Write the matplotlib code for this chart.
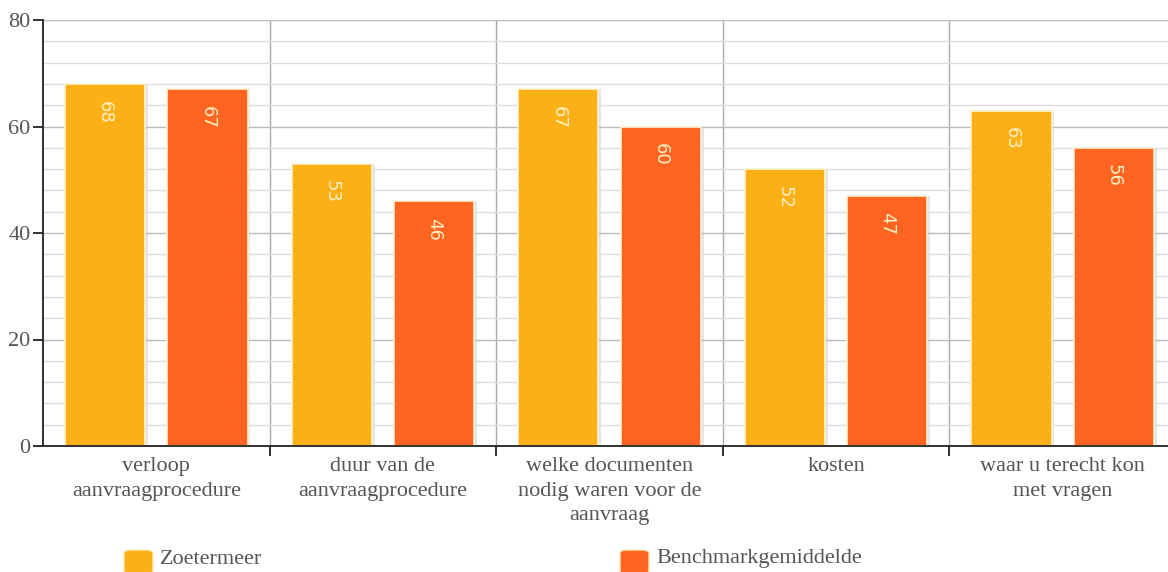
import matplotlib
matplotlib.use("Agg")
import matplotlib.pyplot as plt
from matplotlib.patches import FancyBboxPatch
from matplotlib.ticker import MultipleLocator
import numpy as np

categories = [
    "verloop\naanvraagprocedure",
    "duur van de\naanvraagprocedure",
    "welke documenten\nnodig waren voor de\naanvraag",
    "kosten",
    "waar u terecht kon\nmet vragen",
]
zoetermeer = [68, 53, 67, 52, 63]
benchmark = [67, 46, 60, 47, 56]
series_names = ["Zoetermeer", "Benchmarkgemiddelde"]
yticks = [0, 20, 40, 60, 80]

c_yellow = "#FBB018"
c_red = "#FF6420"
text_grey = "#555555"
serif = ["Liberation Serif", "DejaVu Serif"]

W, H = 1168, 572
fig = plt.figure(figsize=(W / 100, H / 100), dpi=100)
fig.patch.set_facecolor("white")

left, right, top, bottom = 43, 1176, 20, 446
ax = fig.add_axes([left / W, 1 - bottom / H, (right - left) / W, (bottom - top) / H])

x = np.arange(len(categories))
bw = 0.354
off = 0.226

ax.set_xlim(-0.5, len(categories) - 0.5)
ax.set_ylim(0, 80)

# grid: minor every 4, major every 20
ax.yaxis.set_major_locator(MultipleLocator(20))
ax.yaxis.set_minor_locator(MultipleLocator(4))
ax.grid(axis="y", which="minor", color="#dddddd", linewidth=1.0, zorder=0)
ax.grid(axis="y", which="major", color="#bbbbbb", linewidth=1.0, zorder=0)
for b in np.arange(0.5, len(categories) - 0.5, 1.0):
    ax.axvline(b, color="#aaaaaa", linewidth=1.0, zorder=0)

for vals, dx, col in [(zoetermeer, -off, c_yellow), (benchmark, off, c_red)]:
    # soft shadow behind each bar
    ax.bar(x + dx + 0.012, vals, bw, color="#cccccc", alpha=0.5, zorder=1)
    ax.bar(x + dx, vals, bw, color=col, edgecolor="#fff2d0",
           linewidth=1.2, zorder=2)
    for xi, v in zip(x + dx, vals):
        ax.annotate(str(v), (xi, v), xytext=(0, -12), textcoords="offset points",
                    rotation=-90, ha="center", va="top", fontsize=13,
                    color="#fff1c4", family="DejaVu Sans", zorder=3)

for s in ["top", "right"]:
    ax.spines[s].set_visible(False)
ax.spines["left"].set_color("#222222")
ax.spines["bottom"].set_color("#222222")
ax.spines["left"].set_linewidth(1.3)
ax.spines["bottom"].set_linewidth(1.3)

ax.set_yticks(yticks)
ax.set_yticklabels([str(t) for t in yticks], family=serif, fontsize=16, color=text_grey)
ax.tick_params(axis="y", which="major", length=7, width=1.3, color="#222222", pad=2)
ax.tick_params(axis="y", which="minor", length=0)

ax.set_xticks(np.arange(0.5, len(categories) - 0.5, 1.0))
ax.set_xticklabels([])
ax.tick_params(axis="x", length=7, width=1.3, color="#222222")

for xi, lab in zip(x, categories):
    ax.annotate(lab, (xi, 0), xytext=(0, -8), textcoords="offset points",
                ha="center", va="top", family=serif, fontsize=16,
                color=text_grey, linespacing=1.4)

# legend along the bottom
for (px, name, col) in [(124, series_names[0], c_yellow), (620, series_names[1], c_red)]:
    sq = FancyBboxPatch((px / W, 1 - 574 / H), 29 / W, 24 / H,
                        boxstyle="round,pad=0,rounding_size=0.006",
                        transform=fig.transFigure, facecolor=col,
                        edgecolor="#ffe7b0", linewidth=1)
    fig.add_artist(sq)
    fig.text((px + 36) / W, 1 - 559 / H, name, family=serif, fontsize=16,
             color=text_grey, va="center", ha="left")

fig.savefig("out.png", dpi=100)
